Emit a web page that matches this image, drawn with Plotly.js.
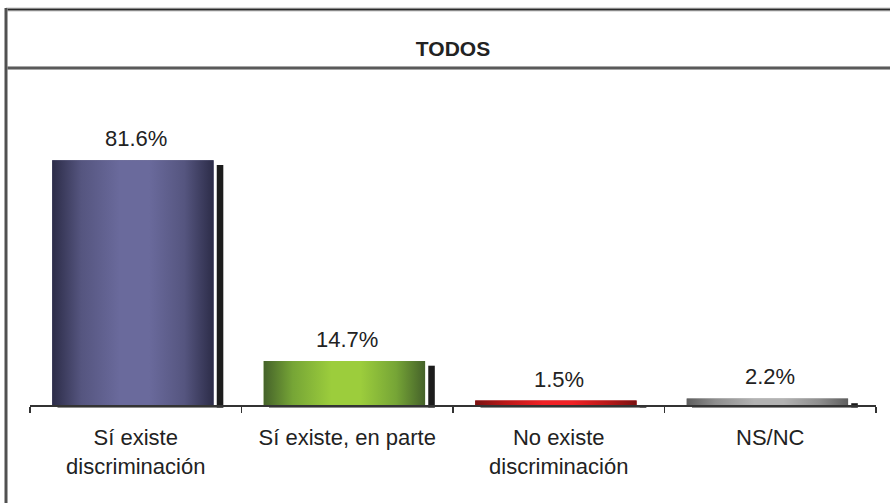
<!DOCTYPE html>
<html>
<head>
<meta charset="utf-8">
<script src="https://cdn.plot.ly/plotly-3.0.1.min.js"></script>
<style>html,body{margin:0;padding:0;background:#fff;}#chart{width:890px;height:503px;}</style>
</head>
<body>
<div id="chart"></div>
<script>
// ---- data ----
const categories = ["Sí existe<br>discriminación", "Sí existe, en parte", "No existe<br>discriminación", "NS/NC"];
const values = [81.6, 14.7, 1.5, 2.2];
const valueLabels = ["81.6%", "14.7%", "1.5%", "2.2%"];
const chartTitle = "TODOS";

// ---- styles ----
const darkColors  = ["#2c2c48", "#45622a", "#7a1212", "#5e5e5e"];
const midColors   = ["#55557f", "#76a536", "#b81818", "#8e8e8e"];
const lightColors = ["#6a6a9c", "#9ccd3c", "#f02226", "#b2b2b2"];
const FONT = "Arial, 'Liberation Sans', sans-serif";
const barOffset = -0.395, barWidth = 0.763;
const positions = categories.map((_, i) => i);

const traces = [];
// shadow strips (right side)
traces.push({
  type: "bar", x: positions, y: values.map(v => v - 0.8), base: values.map(() => -0.8),
  offset: 0.383, width: 0.031, marker: {color: "#1c1c1c", line: {width: 0}},
  hoverinfo: "skip", showlegend: false
});
// shadow strips (bottom) - on the boundary-tick axis so it is drawn
traces.push({
  type: "bar", x: positions, y: values.map(() => 0.8), base: values.map(() => -0.8),
  xaxis: "x2", yaxis: "y",
  offset: -0.37, width: 0.784, marker: {color: "#1c1c1c", line: {width: 0}},
  hoverinfo: "skip", showlegend: false
});
// main bars
traces.push({
  type: "bar", x: positions, y: values, offset: barOffset, width: barWidth,
  marker: {color: midColors, line: {width: 0}}, showlegend: false, hoverinfo: "x+y"
});
// gradient overlays on the bars
values.forEach((v, i) => {
  const x0 = positions[i] + barOffset, x1 = x0 + barWidth;
  traces.push({
    type: "scatter", mode: "lines", x: [x0, x1, x1, x0, x0], y: [0, 0, v, v, 0],
    fill: "toself", line: {width: 0, color: "rgba(0,0,0,0)"},
    fillcolor: midColors[i],
    fillgradient: {type: "horizontal", colorscale: [
      [0, darkColors[i]], [0.18, midColors[i]], [0.42, lightColors[i]],
      [0.6, lightColors[i]], [0.82, midColors[i]], [1, darkColors[i]]
    ]},
    hoverinfo: "skip", showlegend: false
  });
});

// value annotations
const annotations = values.map((v, i) => ({
  x: positions[i], y: v, xref: "x", yref: "y", text: valueLabels[i],
  showarrow: false, yanchor: "bottom", yshift: 7,
  font: {family: FONT, size: 22, color: "#222"}
}));

// frame lines (pixel -> paper helpers)
const L = 30, R = 14, T = 105, B = 95, W = 890, H = 503;
const pw = W - L - R, ph = H - T - B;
const px = p => (p - L) / pw;
const py = p => (H - B - p) / ph;
function dbl(x0, y0, x1, y1) {
  return [
    {type: "line", xref: "paper", yref: "paper", x0: px(x0), y0: py(y0), x1: px(x1), y1: py(y1), line: {color: "#8a8a8a", width: 3.5}},
    {type: "line", xref: "paper", yref: "paper", x0: px(x0), y0: py(y0), x1: px(x1), y1: py(y1), line: {color: "#2a2a2a", width: 1.2}}
  ];
}
const shapes = [].concat(
  dbl(6, 9.5, 900, 9.5),
  dbl(6, 68, 900, 68),
  dbl(6, 8, 6, 520)
);

const zeroPos = 1 / 101;
const layout = {
  width: W, height: H,
  margin: {l: L, r: R, t: T, b: B, pad: 0},
  paper_bgcolor: "#fff", plot_bgcolor: "#fff",
  font: {family: FONT, size: 22, color: "#222"},
  title: {text: "<b>" + chartTitle + "</b>", font: {family: FONT, size: 21, color: "#222"},
          x: 0.5, xref: "paper", xanchor: "center", y: 1 - 49 / H, yref: "container", yanchor: "middle"},
  showlegend: false, barmode: "overlay",
  xaxis: {type: "linear", range: [-0.5, 3.5], domain: [0, 1], anchor: "free", position: zeroPos,
          tickmode: "array", tickvals: positions, ticktext: categories, ticks: "", ticklabelstandoff: 17,
          showline: false, showgrid: false, zeroline: false, fixedrange: true,
          tickfont: {family: FONT, size: 22, color: "#222"}},
  xaxis2: {type: "linear", range: [-0.5, 3.5], domain: [0, 1], overlaying: "x", anchor: "free", position: zeroPos,
           side: "bottom",
           tickmode: "array", tickvals: [-0.5, 0.5, 1.5, 2.5, 3.5], ticks: "outside", ticklen: 6, tickwidth: 1.5,
           tickcolor: "#333", showticklabels: false, showline: true, linecolor: "#333", linewidth: 1.5,
           showgrid: false, zeroline: false, fixedrange: true},
  yaxis: {range: [-1, 100], domain: [0, 1], visible: false, fixedrange: true},
  annotations: annotations,
  shapes: shapes
};

Plotly.newPlot("chart", traces, layout, {displayModeBar: false, staticPlot: true});
</script>
</body>
</html>
